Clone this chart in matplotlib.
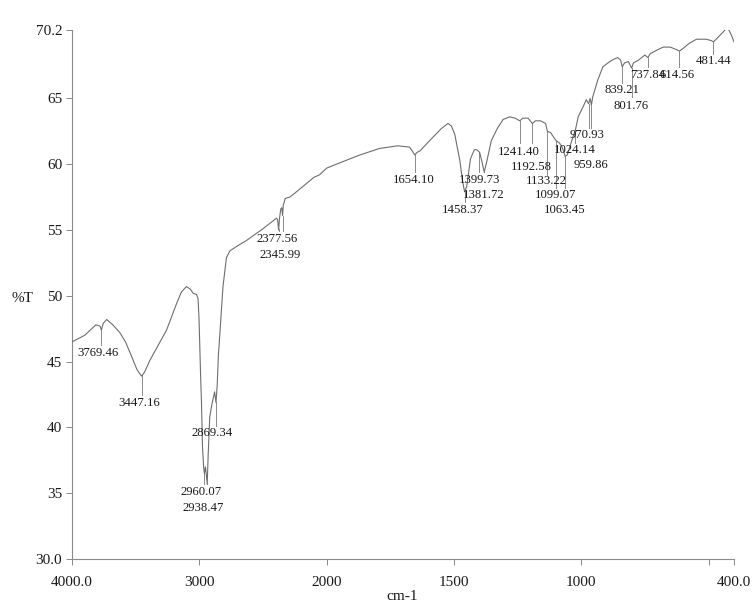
"""FTIR spectrum (%T vs wavenumber) with peak labels, scanned-instrument style."""
import numpy as np
import matplotlib
matplotlib.use('Agg')
import matplotlib.pyplot as plt

plt.rcParams.update({
    'font.family': ['Liberation Serif', 'DejaVu Serif'],
    'font.size': 11,
})

# --- spectrum: wavenumber (cm-1) and %T ---
wavenumber = [
    4000, 3900, 3812, 3780, 3769, 3755, 3728, 3680, 3624, 3580, 3532, 3490,
    3454, 3430, 3388, 3320, 3257, 3179, 3140, 3101, 3070, 3049, 3022, 3010,
    3002, 2990, 2983, 2975, 2966, 2960, 2952, 2945, 2938, 2930, 2918, 2900,
    2880, 2869, 2860, 2850, 2840, 2814, 2787, 2761, 2700, 2630, 2500, 2420,
    2395, 2385, 2377, 2370, 2360, 2352, 2346, 2340, 2325, 2290, 2250, 2200,
    2100, 2055, 2000, 1949, 1870, 1792, 1720, 1674, 1660, 1654, 1645, 1634,
    1595, 1550, 1523, 1510, 1497, 1477, 1465, 1458, 1450, 1435, 1420, 1410,
    1399, 1390, 1381, 1370, 1353, 1330, 1307, 1281, 1260, 1241, 1230, 1209,
    1192, 1180, 1160, 1140, 1133, 1120, 1110, 1099, 1085, 1075, 1063, 1055,
    1045, 1032, 1024, 1012, 992, 980, 971, 965, 960, 955, 935, 915,
    888, 870, 856, 845, 839, 830, 815, 802, 795, 776, 750, 738,
    729, 700, 678, 650, 625, 614, 600, 575, 547, 510, 490, 481,
    470, 445, 431, 420, 410, 400,
]
transmittance = [
    46.5, 47.0, 47.8, 47.7, 47.4, 47.9, 48.2, 47.8, 47.2, 46.5, 45.4, 44.4,
    43.9, 44.2, 45.1, 46.3, 47.4, 49.4, 50.3, 50.7, 50.5, 50.2, 50.1, 49.8,
    48.2, 44.0, 41.9, 38.5, 37.0, 36.5, 37.0, 36.4, 35.7, 38.0, 40.8, 41.8,
    42.7, 41.9, 43.1, 45.5, 46.9, 50.7, 52.9, 53.4, 53.8, 54.2, 55.1, 55.7,
    55.9, 55.8, 55.0, 55.9, 56.6, 56.7, 56.1, 56.9, 57.4, 57.5, 57.8, 58.2,
    59.0, 59.2, 59.7, 60.1, 60.7, 61.2, 61.4, 61.3, 60.9, 60.7, 60.9, 61.0,
    61.8, 62.7, 63.1, 62.9, 62.3, 60.3, 58.6, 57.9, 58.3, 60.4, 61.1, 61.1,
    60.9, 60.2, 59.4, 60.3, 61.8, 62.7, 63.4, 63.6, 63.5, 63.3, 63.5, 63.5,
    63.1, 63.3, 63.3, 63.1, 62.5, 62.4, 62.1, 61.8, 61.6, 61.3, 60.6, 60.7,
    61.3, 62.1, 62.5, 63.6, 64.4, 64.9, 64.6, 65.0, 64.5, 65.1, 66.4, 67.4,
    67.8, 68.0, 68.1, 67.9, 67.4, 67.7, 67.8, 67.3, 67.7, 67.9, 68.3, 68.1,
    68.4, 68.7, 68.9, 68.9, 68.7, 68.6, 68.8, 69.2, 69.5, 69.5, 69.4, 69.3,
    69.5, 70.0, 70.3, 70.2, 69.8, 69.3,
]

# --- peak labels ---
peak_names = [
    '3769.46', '3447.16', '2960.07', '2938.47', '2869.34', '2377.56',
    '2345.99', '1654.10', '1458.37', '1399.73', '1381.72', '1241.40',
    '1192.58', '1133.22', '1099.07', '1063.45', '1024.14', '970.93',
    '959.86', '839.21', '801.76', '737.84', '614.56', '481.44',
]
peak_wn = [float(p) for p in peak_names]

# layout: where each label text sits (wn, %T) and where its stick ends (%T)
label_xy = [
    (3794, 45.65), (3473, 41.83), (2983, 35.12), (2973, 33.85), (2896, 39.55),
    (2389, 54.30), (2363, 53.10), (1656, 58.80), (1464, 56.50), (1401, 58.80),
    (1385, 57.66), (1247, 60.95), (1196, 59.80), (1137, 58.70), (1102, 57.66),
    (1065, 56.50), (1027, 61.08), (976, 62.20), (960, 59.94), (840, 65.64),
    (804, 64.42), (737, 66.78), (622, 66.78), (480, 67.84),
]
stick_end = [
    46.25, 42.45, 35.70, 35.70, 40.10, 54.90, 54.90, 59.40, 57.10, 59.40,
    59.40, 61.60, 61.60, 59.20, 58.20, 58.20, 61.60, 62.75, 62.75, 66.20,
    65.10, 67.40, 67.40, 68.40,
]


# instrument-style broken x axis: 4000-2000 at half scale
def fwd(x):
    x = np.asarray(x, dtype=float)
    return np.where(x > 2000, 2000 + (x - 2000) / 2.0, x)


def inv(y):
    y = np.asarray(y, dtype=float)
    return np.where(y > 2000, 2000 + (y - 2000) * 2.0, y)


fig = plt.figure(figsize=(7.56, 6.09), dpi=100)
ax = fig.add_axes([72 / 756, 1 - 559 / 609, 662 / 756, 529 / 609])
ax.set_xscale('function', functions=(fwd, inv))

wn = np.array(wavenumber)
tr = np.array(transmittance)
ax.plot(wn, tr, color='#6e6e6e', lw=0.8, zorder=3)

# peak sticks + labels
for name, w, (tx, ty), y_end in zip(peak_names, peak_wn, label_xy, stick_end):
    y_top = np.interp(w, wn[::-1], tr[::-1])
    ax.plot([w, w], [y_top, y_end], color='#8a8a8a', lw=0.7, zorder=2)
    ax.text(tx, ty, name, ha='center', va='center', fontsize=9.2,
            color='#1a1a1a', zorder=4)

ax.set_xlim(4000, 400)
ax.set_ylim(30, 70.2)

ax.set_xticks([4000, 3000, 2000, 1500, 1000, 500, 400])
ax.set_xticklabels(['4000.0', '3000', '2000', '1500', '1000', '', '400.0'])
ax.set_yticks([30, 35, 40, 45, 50, 55, 60, 65, 70.2])
ax.set_yticklabels(['30.0', '35', '40', '45', '50', '55', '60', '65', '70.2'])
ax.xaxis.set_minor_locator(plt.NullLocator())

for side in ('top', 'right'):
    ax.spines[side].set_visible(False)
for side in ('left', 'bottom'):
    ax.spines[side].set_color('#8a8a8a')
    ax.spines[side].set_linewidth(0.8)

ax.tick_params(axis='both', direction='out', length=4, width=0.7,
               color='#8a8a8a', labelsize=11, labelcolor='#1a1a1a')
ax.tick_params(axis='x', pad=8)
ax.tick_params(axis='y', pad=3)

fig.text(22 / 756, 1 - 298 / 609, '%T', ha='center', va='center',
         fontsize=11, color='#1a1a1a')
fig.text(402 / 756, 1 - 597 / 609, 'cm-1', ha='center', va='center',
         fontsize=11, color='#1a1a1a')

fig.savefig('out.png', dpi=100, facecolor='white')
plt.close()
